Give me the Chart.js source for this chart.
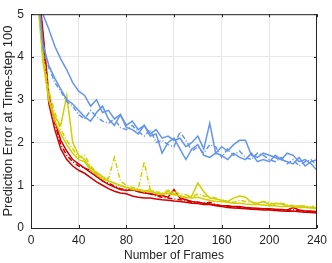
<!DOCTYPE html>
<html>
<head>
<meta charset="UTF-8">
<script src="https://cdn.jsdelivr.net/npm/chart.js"></script>
<style>
  body { margin: 0; background: #fff; }
  #wrap { width: 332px; height: 263px; }
</style>
</head>
<body>
<div id="wrap"><canvas id="errChart"></canvas></div>
<script>
// frames on the x axis
var frames = [5,10,15,20,25,30,35,40,45,50,55,60,65,70,75,80,85,90,95,100,105,110,115,120,
              125,130,135,140,145,150,155,160,165,170,175,180,185,190,195,200,205,210,215,220,225,230,235,240];

var blueA = [5.6,5.0,4.65,4.25,3.95,3.7,3.4,3.2,3.1,2.85,3.0,2.7,2.75,2.55,2.65,2.4,2.5,2.3,2.4,2.2,2.3,2.1,2.15,2.05,
             2.1,1.9,2.0,2.15,1.85,2.45,1.75,1.9,1.8,1.95,2.05,2.05,1.7,1.65,1.75,1.7,1.65,1.6,1.75,1.7,1.55,1.6,1.5,1.35];
var blueB = [5.8,4.3,3.8,3.5,3.25,3.0,2.9,2.75,2.6,2.5,2.7,2.85,2.55,2.4,2.65,2.35,2.3,2.2,2.4,2.15,2.2,1.75,2.0,2.1,
             1.85,1.6,1.85,1.95,1.7,1.65,1.75,1.7,1.6,1.75,1.65,1.6,1.75,1.55,1.6,1.55,1.7,1.6,1.55,1.5,1.65,1.45,1.55,1.6];
var blueC = [5.9,4.2,3.75,3.4,3.2,2.95,2.85,2.65,2.55,2.75,2.6,2.5,2.45,2.55,2.35,2.3,2.4,2.25,2.15,2.3,2.0,2.05,1.95,1.9,
             2.25,2.05,1.8,1.9,1.75,1.95,1.9,1.65,1.85,1.7,1.8,1.65,1.6,1.75,1.7,1.6,1.55,1.65,1.5,1.6,1.45,1.55,1.6,1.45];

var yellowA = [5.5,3.9,3.0,2.5,2.2,1.95,1.75,1.6,1.55,1.35,1.25,1.15,1.1,1.05,1.0,0.95,0.92,0.9,0.88,0.85,0.82,0.8,0.8,0.78,
               0.75,0.72,0.7,0.72,0.68,0.65,0.62,0.62,0.6,0.58,0.58,0.56,0.55,0.55,0.54,0.52,0.52,0.5,0.5,0.5,0.48,0.48,0.47,0.45];
var yellowB = [5.8,4.0,3.0,2.6,2.4,3.1,2.0,1.7,1.6,1.4,1.3,1.2,1.1,1.05,0.98,0.95,0.9,0.88,0.85,0.9,0.8,0.78,0.85,0.8,
               0.75,0.7,0.75,1.05,0.85,0.7,0.68,0.65,0.62,0.7,0.75,0.72,0.6,0.58,0.62,0.55,0.58,0.56,0.52,0.5,0.52,0.5,0.48,0.47];
var yellowC = [5.7,4.1,3.2,2.7,2.3,2.05,1.85,1.65,1.7,1.45,1.3,1.2,1.15,1.65,1.1,1.0,0.95,0.92,1.55,0.9,0.85,0.82,0.88,0.85,
               0.8,0.78,0.72,0.8,0.75,0.72,0.7,0.65,0.62,0.6,0.65,0.62,0.6,0.58,0.62,0.6,0.55,0.58,0.55,0.52,0.5,0.52,0.48,0.55];

var redA = [6.0,4.6,3.1,2.5,2.05,1.8,1.6,1.5,1.4,1.3,1.2,1.1,1.02,0.96,0.9,0.88,0.9,0.85,0.82,0.8,0.78,0.76,0.72,0.9,
            0.7,0.66,0.62,0.6,0.58,0.56,0.54,0.52,0.52,0.5,0.5,0.48,0.47,0.46,0.45,0.45,0.44,0.43,0.42,0.48,0.42,0.4,0.4,0.38];
var redB = [6.0,4.4,2.9,2.3,1.85,1.6,1.45,1.35,1.28,1.18,1.08,1.0,0.92,0.86,0.82,0.8,0.75,0.72,0.7,0.7,0.68,0.66,0.65,0.63,
            0.62,0.6,0.58,0.57,0.55,0.55,0.52,0.5,0.48,0.47,0.46,0.45,0.44,0.43,0.42,0.42,0.41,0.4,0.39,0.4,0.38,0.37,0.36,0.35];
var redC = [6.0,4.5,3.0,2.45,1.95,1.7,1.55,1.45,1.4,1.35,1.25,1.1,1.05,0.98,0.92,0.9,0.88,0.86,0.84,0.8,0.75,0.72,0.7,0.68,
            0.66,0.64,0.6,0.6,0.58,0.6,0.55,0.52,0.5,0.5,0.48,0.47,0.46,0.45,0.44,0.44,0.43,0.42,0.41,0.43,0.4,0.39,0.38,0.37];

var BLUE = '#6495ed', YELLOW = '#d0d000', RED = '#d40000';
var DASHDOT = [5, 2, 1, 2];

function pts(vals) {
  return vals.map(function (v, i) { return { x: frames[i], y: v }; });
}
function line(vals, color, dash) {
  return {
    data: pts(vals), borderColor: color, borderWidth: 1.5, borderDash: dash || [],
    pointRadius: 0, fill: false, tension: 0
  };
}

// matlab style box with inward ticks
var boxPlugin = {
  id: 'box',
  afterDraw: function (chart) {
    var c = chart.ctx, a = chart.chartArea;
    var xs = chart.scales.x, ys = chart.scales.y;
    c.save();
    c.strokeStyle = '#262626';
    c.lineWidth = 1;
    c.strokeRect(a.left + 0.5, a.top + 0.5, a.right - a.left - 1, a.bottom - a.top);
    c.beginPath();
    xs.ticks.forEach(function (t) {
      var px = Math.round(xs.getPixelForValue(t.value)) + 0.5;
      c.moveTo(px, a.bottom); c.lineTo(px, a.bottom - 3);
      c.moveTo(px, a.top); c.lineTo(px, a.top + 3);
    });
    ys.ticks.forEach(function (t) {
      var py = Math.round(ys.getPixelForValue(t.value)) + 0.5;
      c.moveTo(a.left, py); c.lineTo(a.left + 3, py);
      c.moveTo(a.right, py); c.lineTo(a.right - 3, py);
    });
    c.stroke();
    c.restore();
  }
};

Chart.defaults.font.family = '"Liberation Sans", Arial, sans-serif';
Chart.defaults.font.size = 12;
Chart.defaults.color = '#262626';

new Chart(document.getElementById('errChart'), {
  type: 'line',
  data: {
    datasets: [
      line(blueA, BLUE), line(blueB, BLUE), line(blueC, BLUE, DASHDOT),
      line(yellowA, YELLOW), line(yellowB, YELLOW), line(yellowC, YELLOW, DASHDOT),
      line(redA, RED), line(redB, RED), line(redC, RED, DASHDOT)
    ]
  },
  options: {
    responsive: true,
    maintainAspectRatio: false,
    animation: false,
    layout: { padding: { left: 0, right: 12, top: 8, bottom: 0 } },
    plugins: { legend: { display: false }, tooltip: { enabled: false } },
    scales: {
      x: {
        type: 'linear', min: 0, max: 240,
        ticks: { stepSize: 40, padding: 5, maxRotation: 0 },
        grid: { color: '#e6e6e6', drawTicks: false },
        border: { display: false },
        title: { display: true, text: 'Number of Frames', padding: { top: 2, bottom: 0 } },
        afterFit: function (s) { s.height = 35; }
      },
      y: {
        min: 0, max: 5,
        ticks: { stepSize: 1, padding: 7 },
        grid: { color: '#e6e6e6', drawTicks: false },
        border: { display: false },
        title: { display: true, text: 'Prediction Error at Time-step 100', font: { size: 13 }, padding: { top: 1, bottom: 0 } },
        afterFit: function (s) { s.width = 31; }
      }
    }
  },
  plugins: [boxPlugin]
});
</script>
</body>
</html>
